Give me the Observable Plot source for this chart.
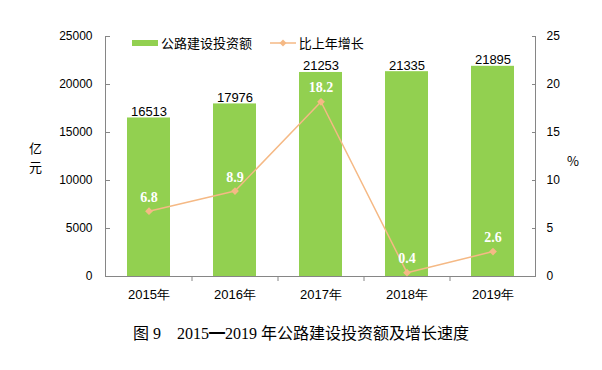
<!DOCTYPE html>
<html>
<head>
<meta charset="utf-8">
<script src="https://cdn.jsdelivr.net/npm/d3@7"></script>
<script src="https://cdn.jsdelivr.net/npm/@observablehq/plot@0.6"></script>
<style>
  body { margin: 0; background: #fff; }
  #wrap { position: relative; width: 602px; height: 370px; font-family: "Liberation Sans", Arial, sans-serif; }
  #legend { position: absolute; top: 33px; left: 132px; font-size: 13px; font-family: "Noto Sans CJK SC", sans-serif; display: flex; align-items: center; color: #000; }
  #legend span { display: inline-flex; align-items: center; }
  #caption { position: absolute; top: 320px; left: 0; width: 602px; text-align: center; font-size: 16px; font-family: "Liberation Serif", "Noto Sans CJK SC", serif; color: #000; }
  .ylab { position: absolute; font-family: "Noto Sans CJK SC", sans-serif; font-size: 13px; color: #000; }
</style>
</head>
<body>
<div id="wrap">
  <div id="chart"></div>
  <div id="legend">
    <span><svg width="26" height="6"><rect x="0" y="0" width="26" height="6" fill="#92D050"/></svg>&nbsp;公路建设投资额</span>
    <span style="margin-left:18px"><svg width="26" height="10"><line x1="0" y1="5" x2="26" y2="5" stroke="#F5B985" stroke-width="1.5"/><path d="M13,1.5 L16.5,5 L13,8.5 L9.5,5 Z" fill="#F5B985"/></svg>&nbsp;比上年增长</span>
  </div>
  <div class="ylab" style="left:29px; top:138px; line-height:19px;">亿<br>元</div>
  <div class="ylab" style="left:567px; top:151px;">%</div>
  <div id="caption">图 9　2015━2019 年公路建设投资额及增长速度</div>
</div>
<script>
const years = ["2015年", "2016年", "2017年", "2018年", "2019年"];
const investment = [16513, 17976, 21253, 21335, 21895];
const growth = [6.8, 8.9, 18.2, 0.4, 2.6];
const leftTicks = [0, 5000, 10000, 15000, 20000, 25000];
const rightTicks = [0, 5, 10, 15, 20, 25];

const ratio = 1000; // right axis (%) mapped onto left axis scale
const data = years.map((y, i) => ({year: y, inv: investment[i], g: growth[i], gy: growth[i] * ratio}));
const boundaries = data.slice(0, years.length - 1);

const axisColor = "#868686";

const chart = Plot.plot({
  width: 602,
  height: 305,
  marginLeft: 105,
  marginRight: 67,
  marginTop: 36,
  marginBottom: 29,
  style: {fontFamily: "Liberation Sans, Arial, sans-serif", fontSize: "12px", color: "#000", background: "#fff"},
  x: {type: "band", domain: years, paddingInner: 0.5, paddingOuter: 0.25, label: null},
  y: {domain: [0, 25000], label: null},
  marks: [
    Plot.barY(data, {x: "year", y: "inv", fill: "#92D050"}),
    Plot.frame({anchor: "left", stroke: axisColor}),
    Plot.frame({anchor: "right", stroke: axisColor}),
    Plot.ruleY([0], {stroke: axisColor}),
    Plot.ruleX(boundaries, {x: "year", y1: 0, y2: 0, dx: 43, insetBottom: -5, stroke: axisColor}),
    Plot.axisY({ticks: leftTicks, tickFormat: d => String(d), tickSize: -5, tickPadding: 18, fontSize: 12, stroke: axisColor, strokeOpacity: 1}),
    Plot.axisY({anchor: "right", ticks: rightTicks.map(d => d * ratio), tickFormat: d => String(d / ratio), tickSize: -4, tickPadding: 15, fontSize: 12, stroke: axisColor, strokeOpacity: 1}),
    Plot.axisX({tickSize: 0, tickPadding: 13, fontSize: 13}),
    Plot.text(data, {x: "year", y: "inv", text: d => String(d.inv), lineAnchor: "bottom", dy: -2, fontSize: 13, fill: "#000"}),
    Plot.line(data, {x: "year", y: "gy", stroke: "#F5B985", strokeWidth: 1.5}),
    Plot.dot(data, {x: "year", y: "gy", symbol: "diamond2", r: 3.5, fill: "#F5B985", stroke: "none"}),
    Plot.text(data, {x: "year", y: "gy", text: d => d.g.toFixed(1), dy: -14, fill: "#fff", fontWeight: "bold", fontSize: 14, fontFamily: "Liberation Serif, Times New Roman, serif"})
  ]
});
document.getElementById("chart").appendChild(chart);
</script>
</body>
</html>
